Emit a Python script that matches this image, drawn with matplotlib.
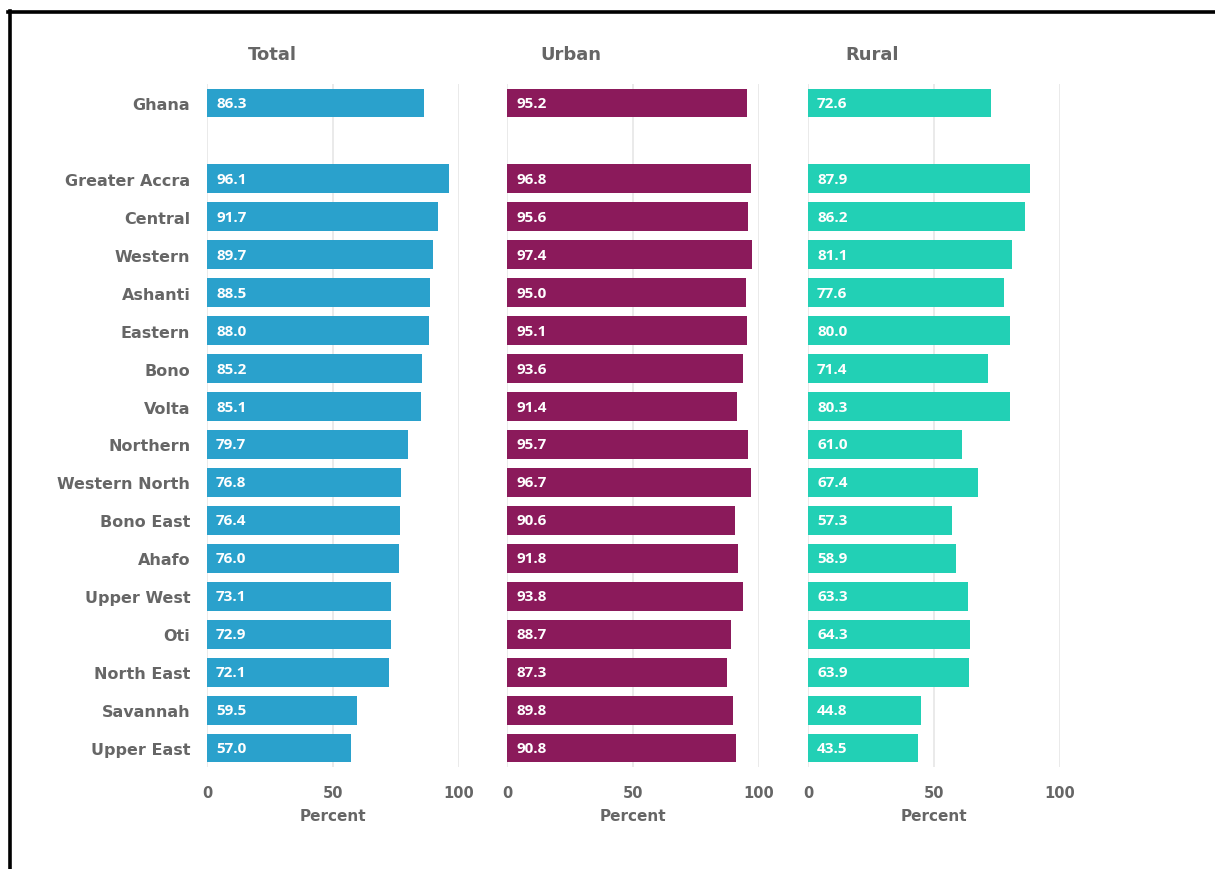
import matplotlib
matplotlib.use("Agg")
import matplotlib.pyplot as plt
from matplotlib.lines import Line2D

regions = ["Ghana", "", "Greater Accra", "Central", "Western", "Ashanti", "Eastern",
           "Bono", "Volta", "Northern", "Western North", "Bono East", "Ahafo",
           "Upper West", "Oti", "North East", "Savannah", "Upper East"]
total = [86.3, None, 96.1, 91.7, 89.7, 88.5, 88.0, 85.2, 85.1, 79.7, 76.8, 76.4,
         76.0, 73.1, 72.9, 72.1, 59.5, 57.0]
urban = [95.2, None, 96.8, 95.6, 97.4, 95.0, 95.1, 93.6, 91.4, 95.7, 96.7, 90.6,
         91.8, 93.8, 88.7, 87.3, 89.8, 90.8]
rural = [72.6, None, 87.9, 86.2, 81.1, 77.6, 80.0, 71.4, 80.3, 61.0, 67.4, 57.3,
         58.9, 63.3, 64.3, 63.9, 44.8, 43.5]
panel_titles = ["Total", "Urban", "Rural"]
colors = ["#2AA1CC", "#8B1A5B", "#22D0B5"]
xticks = [0, 50, 100]
xlabel = "Percent"

W, H = 1215, 870
fig = plt.figure(figsize=(W / 100, H / 100), dpi=100)
fig.patch.set_facecolor("white")

font = "DejaVu Sans"
wt = "bold"
gray = "#666666"
lefts_px = [207, 507, 808]
axw_px = 252
top_px, bot_px = 85, 768

for k, (vals, title, col) in enumerate(zip([total, urban, rural], panel_titles, colors)):
    ax = fig.add_axes([lefts_px[k] / W, 1 - bot_px / H, axw_px / W, (bot_px - top_px) / H])
    ys = [i for i, v in enumerate(vals) if v is not None]
    vs = [v for v in vals if v is not None]
    ax.barh(ys, vs, height=0.76, color=col, zorder=2)
    for y, v in zip(ys, vs):
        ax.text(3.6, y, f"{v:.1f}", color="white", fontsize=11, fontweight="bold",
                family="Open Sans", va="center", ha="left", zorder=3)
    ax.set_xlim(0, 100)
    ax.set_ylim(17.5, -0.5)
    for x in xticks:
        ax.axvline(x, color="#E6E6E6", lw=1.2, zorder=1)
    for s in ax.spines.values():
        s.set_visible(False)
    ax.set_xticks(xticks)
    ax.set_xticklabels([str(t) for t in xticks], fontsize=10.5, color=gray,
                       family=font, fontweight=wt)
    ax.tick_params(axis="x", length=0, pad=13)
    ax.set_xlabel(xlabel, fontsize=11, color=gray, family=font, fontweight=wt,
                  labelpad=6)
    if k == 0:
        ax.set_yticks(range(len(regions)))
        ax.set_yticklabels(regions, fontsize=11.5, color=gray, family=font,
                           fontweight=wt)
        ax.tick_params(axis="y", length=0, pad=12)
    else:
        ax.set_yticks([])
    ax.set_facecolor("none")
    title_x = [272, 571, 872][k]
    fig.text(title_x / W, 1 - 55 / H, title, fontsize=13, color=gray, family=font,
             fontweight=wt, ha="center", va="center")

# frame lines
fig.add_artist(Line2D([8 / W, 1], [1 - 13 / H, 1 - 13 / H], color="black", lw=2.6,
                      transform=fig.transFigure))
fig.add_artist(Line2D([9.5 / W, 9.5 / W], [0, 1 - 12 / H], color="black", lw=2.6,
                      transform=fig.transFigure))

fig.savefig("out.png", dpi=100)
